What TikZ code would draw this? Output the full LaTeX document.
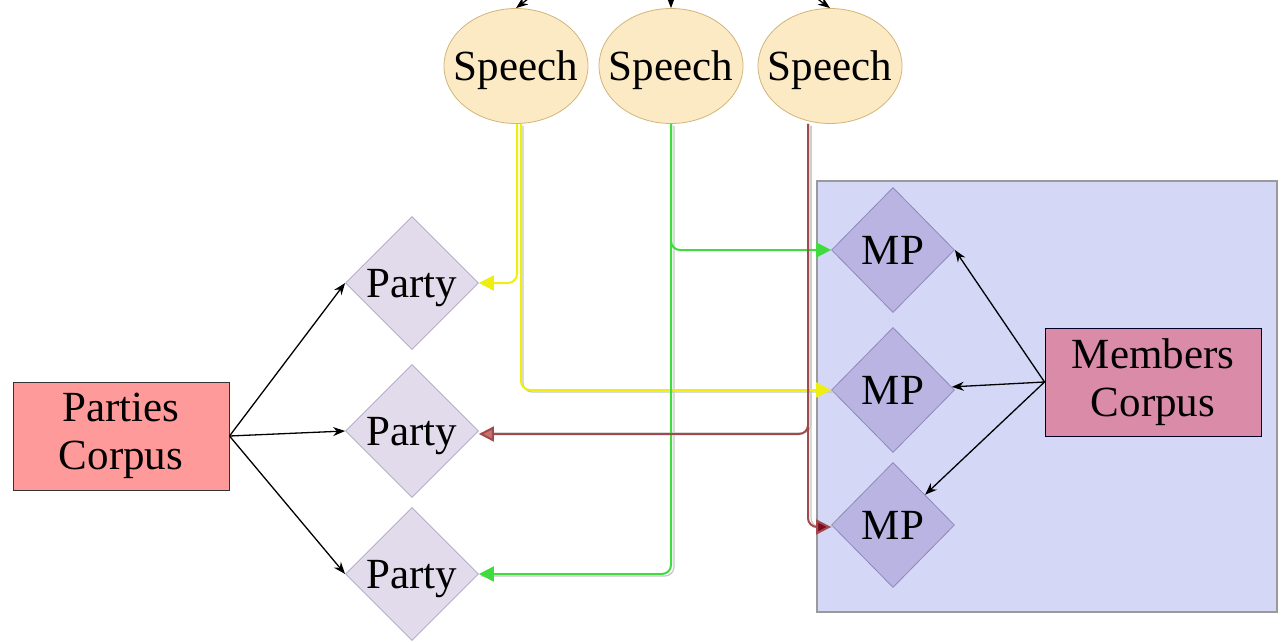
\documentclass[tikz,border=0pt]{standalone}
\usepackage{fontspec}
\setmainfont{Liberation Serif}
\usetikzlibrary{shapes.geometric,arrows.meta}
\definecolor{speechfill}{HTML}{FBEAC3}
\definecolor{speechdraw}{HTML}{D2B57A}
\definecolor{partyfill}{HTML}{E1DBEB}
\definecolor{partydraw}{HTML}{ADA4C2}
\definecolor{mpfill}{HTML}{B9B4E2}
\definecolor{mpdraw}{HTML}{8F88B8}
\definecolor{boxfill}{HTML}{D4D7F6}
\definecolor{boxdraw}{HTML}{9A9A9A}
\definecolor{pcfill}{HTML}{FF9A9A}
\definecolor{mcfill}{HTML}{D98BA7}
\definecolor{ylw}{HTML}{EEEE10}
\definecolor{grn}{HTML}{3FDB3F}
\definecolor{redline}{HTML}{A04B4B}
\definecolor{redtip}{HTML}{CC6F6F}
\definecolor{darkredtip}{HTML}{7E0A22}
\tikzset{
  txt/.style={font=\fontsize{43}{48}\selectfont, text=black, align=center},
  speechnode/.style={txt, text depth=0pt, ellipse, fill=speechfill, draw=speechdraw, line width=0.8pt, minimum width=144pt, minimum height=115pt, inner xsep=-40pt, inner ysep=-20pt},
  partynode/.style={txt, text depth=0pt, diamond, fill=partyfill, draw=partydraw, line width=0.8pt, minimum width=133pt, minimum height=133pt, inner xsep=-20pt, inner ysep=-10pt},
  mpnode/.style={txt, diamond, fill=mpfill, draw=mpdraw, line width=0.8pt, minimum width=123pt, minimum height=125pt, inner xsep=-20pt, inner ysep=-10pt},
  corpusnode/.style={txt, rectangle, line width=1pt, minimum width=216pt, minimum height=108pt, inner sep=0pt},
  blk/.style={draw=black, line width=1.3pt, -{Stealth[length=12pt,width=9pt]}},
  colline/.style={line width=2pt, rounded corners=9pt},
  shadowline/.style={draw=black!22, line width=1.2pt, rounded corners=9pt, transform canvas={xshift=2pt,yshift=-2pt}},
  coltip/.style={-{Triangle[length=15pt,width=15pt,fill=#1]}}
}
\begin{document}
\begin{tikzpicture}[x=1pt,y=-1pt]
\useasboundingbox (0,0) rectangle (1285,642);
\clip (0,0) rectangle (1285,642);
\fill[white] (0,0) rectangle (1285,642);

% container
\node (box) [rectangle, fill=boxfill, draw=boxdraw, line width=1.2pt, minimum width=460pt, minimum height=431pt, inner sep=0pt] at (1047,396.5) {};

% speeches
\node (s1) [speechnode] at (516,66) {Speech};
\node (s2) [speechnode] at (671,66) {Speech};
\node (s3) [speechnode] at (830,66) {Speech};
\coordinate (top) at (670,-110);

% parties
\node (p1) [partynode] at (412,283) {Party};
\node (p2) [partynode] at (412,431) {Party};
\node (p3) [partynode] at (412,574) {Party};

% MPs
\node (m1) [mpnode] at (893,250) {MP};
\node (m2) [mpnode] at (893,390) {MP};
\node (m3) [mpnode] at (893,525) {MP};

% corpora
\node (pc) [corpusnode, fill=pcfill, draw=black!80] at (121,436) {Parties\\Corpus};
\node (mc) [corpusnode, fill=mcfill, draw=black!85!blue] at (1153,382) {Members\\Corpus};

% top edges (cut off)
\draw[blk] (top) -- (s1.north);
\draw[blk] (top) -- (s2.north);
\draw[blk] (top) -- (s3.north);

% black connectors
\draw[blk] (pc.east) -- (p1.west);
\draw[blk] (pc.east) -- (p2.west);
\draw[blk] (pc.east) -- (p3.west);
\draw[blk] (mc.west) -- (m1.east);
\draw[blk] (mc.west) -- (m2);
\draw[blk] (mc.west) -- (m3);

% shadows
\draw[shadowline] ([xshift=5pt]s1.south) |- (m2.west);
\draw[shadowline] ([xshift=1pt]s2.south) |- (p3.east);
\draw[shadowline] ([xshift=-21pt]s3.south) |- (p2.east);
\draw[shadowline] ([xshift=-21pt]s3.south) |- (m3.west);

% coloured connectors
\draw[colline, draw=ylw, coltip=ylw] ([xshift=1pt]s1.south) |- (p1.east);
\draw[colline, draw=ylw, coltip=ylw] ([xshift=5pt]s1.south) |- (m2.west);
\draw[colline, draw=grn, coltip=grn] (s2.south) |- (m1.west);
\draw[colline, draw=grn, coltip=grn] ([xshift=0pt]s2.south) |- (p3.east);
\draw[colline, draw=redline, coltip=redtip] ([xshift=-22pt]s3.south) |- ([yshift=-3pt]p2.east);
\draw[colline, draw=redline, coltip=darkredtip] ([xshift=-22pt]s3.south) |- ([yshift=-2pt]m3.west);
\end{tikzpicture}
\end{document}
